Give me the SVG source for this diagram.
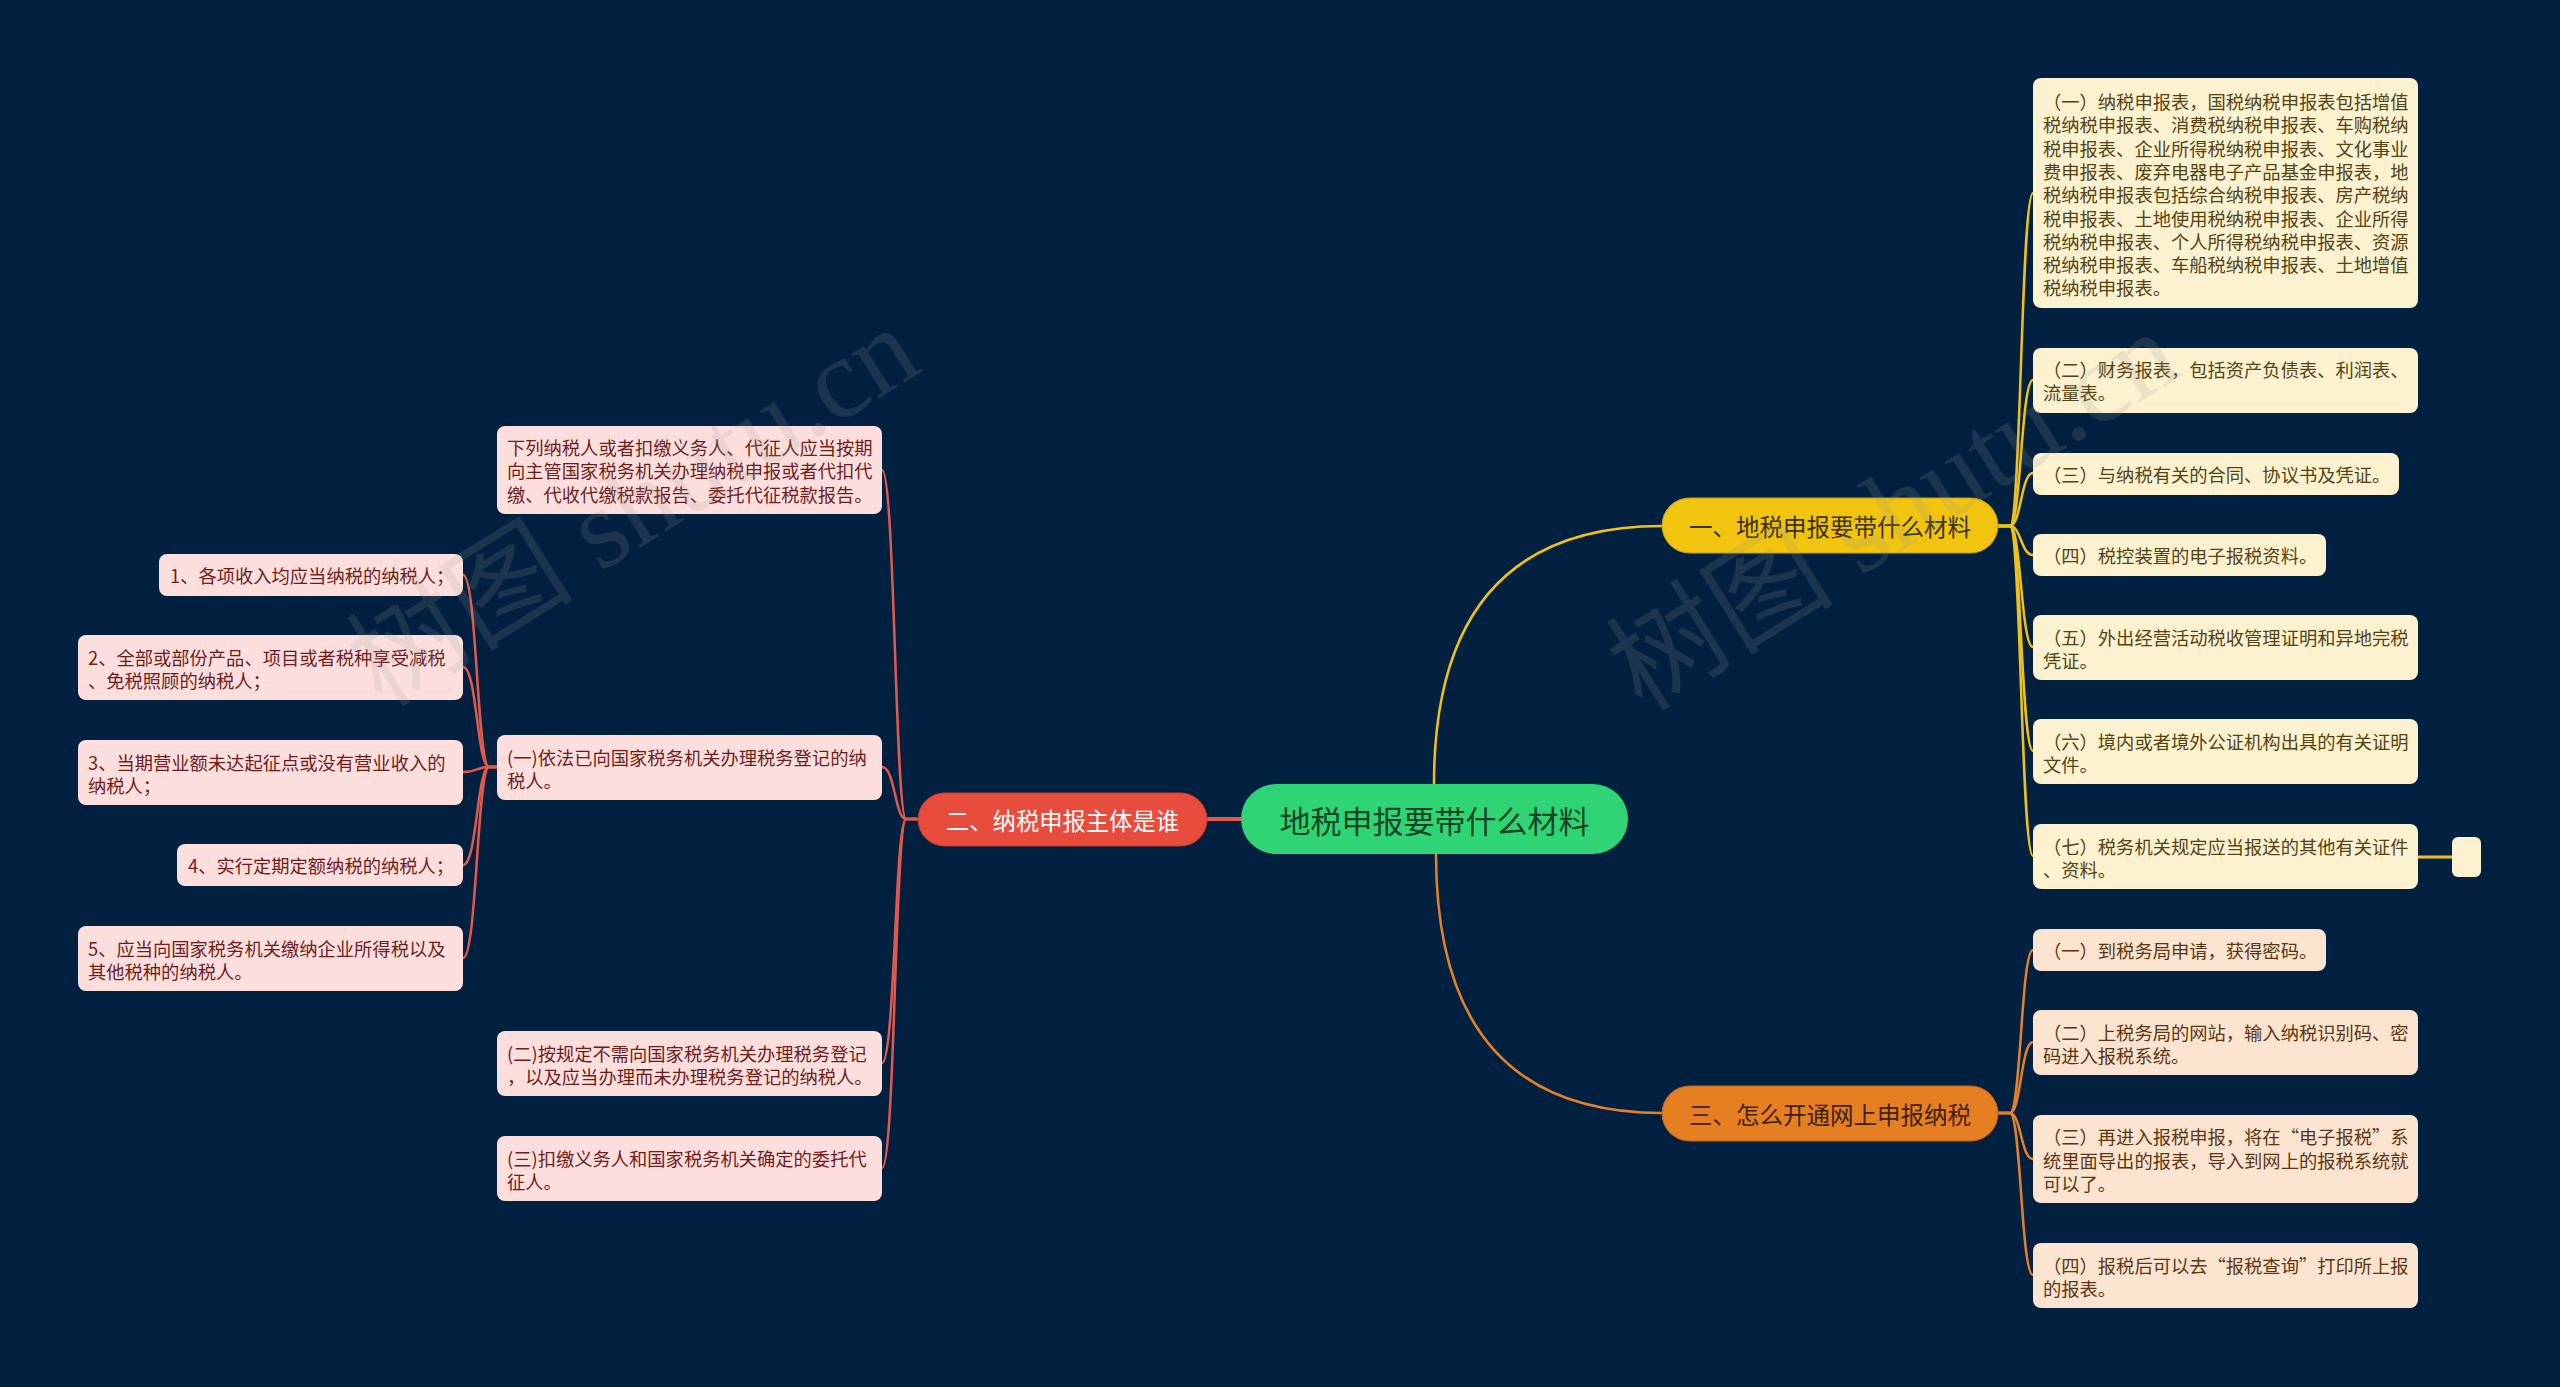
<svg xmlns="http://www.w3.org/2000/svg" width="2560" height="1387" viewBox="0 0 2560 1387">
<style>
text{font-family:"Noto Sans CJK SC","Noto Sans",sans-serif;dominant-baseline:central}
.t{font-size:18.3px}
.yb{fill:#fcf2d0}
.yt{fill:#544313}
.ob{fill:#fbe4cf}
.ot{fill:#5c3512}
.rb{fill:#fcdfdc}
.rt{fill:#6e1d1d}
.cy{fill:none;stroke:#efc21b;stroke-width:2.5}
.co{fill:none;stroke:#e4822a;stroke-width:2.5}
.cr{fill:none;stroke:#e25a4c;stroke-width:2.5}
.wm{font-family:"Liberation Serif","Noto Sans CJK SC",serif;font-size:114px;fill:#9a9a9a;opacity:0.17}
</style>
<rect width="2560" height="1387" fill="#022140"/>

<g id="connectors">
<path d="M1434 784 Q1434 526 1662 526" class="cy" stroke-width="3"/>
<path d="M1436 854 Q1436 1113 1662 1113" class="co" stroke-width="3"/>
<path d="M1241 819 L1207 819" class="cr" style="stroke-width:4"/>
<path d="M1998 526 H2010 C2021 526 2021 193 2033 193" class="cy"/>
<path d="M1998 526 H2010 C2021 526 2021 380 2033 380" class="cy"/>
<path d="M1998 526 H2010 C2021 526 2021 473 2033 473" class="cy"/>
<path d="M1998 526 H2010 C2021 526 2021 555 2033 555" class="cy"/>
<path d="M1998 526 H2010 C2021 526 2021 647 2033 647" class="cy"/>
<path d="M1998 526 H2010 C2021 526 2021 751 2033 751" class="cy"/>
<path d="M1998 526 H2010 C2021 526 2021 856 2033 856" class="cy"/>
<path d="M2418 857 H2452" class="cy" style="stroke-width:3"/>
<path d="M1998 1113 H2010 C2021 1113 2021 950 2033 950" class="co"/>
<path d="M1998 1113 H2010 C2021 1113 2021 1042 2033 1042" class="co"/>
<path d="M1998 1113 H2010 C2021 1113 2021 1159 2033 1159" class="co"/>
<path d="M1998 1113 H2010 C2021 1113 2021 1275 2033 1275" class="co"/>
<path d="M918 819 H906 C895 819 895 470 882 470" class="cr"/>
<path d="M918 819 H906 C895 819 895 767 882 767" class="cr"/>
<path d="M918 819 H906 C895 819 895 1063 882 1063" class="cr"/>
<path d="M918 819 H906 C895 819 895 1168 882 1168" class="cr"/>
<path d="M497 767 H489 C477 767 477 575 463 575" class="cr"/>
<path d="M497 767 H489 C477 767 477 667 463 667" class="cr"/>
<path d="M497 767 H489 C477 767 477 772 463 772" class="cr"/>
<path d="M497 767 H489 C477 767 477 865 463 865" class="cr"/>
<path d="M497 767 H489 C477 767 477 958 463 958" class="cr"/>
</g>

<g id="root">
<rect x="1241" y="784" width="387" height="70" rx="35" fill="#2fd474"/>
<text x="1434.5" y="819" font-size="31" text-anchor="middle" fill="#164526">地税申报要带什么材料</text>
</g>

<g id="b1">
<rect x="1662" y="498" width="336" height="55" rx="27.5" fill="#f1c40f" stroke="#c9a10a" stroke-width="1"/>
<text x="1830" y="526" font-size="23.5" text-anchor="middle" fill="#3b3000">一、地税申报要带什么材料</text>
</g>
<g id="b2">
<rect x="918" y="793" width="289" height="53" rx="26.5" fill="#e74c3c" stroke="#c23c2e" stroke-width="1"/>
<text x="1062.5" y="819.5" font-size="23.3" text-anchor="middle" fill="#ffffff">二、纳税申报主体是谁</text>
</g>
<g id="b3">
<rect x="1662" y="1086" width="336" height="55" rx="27.5" fill="#e67e22" stroke="#c0661a" stroke-width="1"/>
<text x="1830" y="1113.5" font-size="23.5" text-anchor="middle" fill="#3d2108">三、怎么开通网上申报纳税</text>
</g>

<g id="y1">
<rect x="2033" y="78" width="385" height="230" rx="8" class="yb"/>
<text class="t yt"><tspan x="2043" y="101">（一）纳税申报表，国税纳税申报表包括增值</tspan><tspan x="2043" y="124.3">税纳税申报表、消费税纳税申报表、车购税纳</tspan><tspan x="2043" y="147.6">税申报表、企业所得税纳税申报表、文化事业</tspan><tspan x="2043" y="170.9">费申报表、废弃电器电子产品基金申报表，地</tspan><tspan x="2043" y="194.2">税纳税申报表包括综合纳税申报表、房产税纳</tspan><tspan x="2043" y="217.5">税申报表、土地使用税纳税申报表、企业所得</tspan><tspan x="2043" y="240.8">税纳税申报表、个人所得税纳税申报表、资源</tspan><tspan x="2043" y="264.1">税纳税申报表、车船税纳税申报表、土地增值</tspan><tspan x="2043" y="287.4">税纳税申报表。</tspan></text>
</g>
<g id="y2">
<rect x="2033" y="348" width="385" height="65" rx="8" class="yb"/>
<text class="t yt"><tspan x="2043" y="369">（二）财务报表，包括资产负债表、利润表、</tspan><tspan x="2043" y="392.3">流量表。</tspan></text>
</g>
<g id="y3">
<rect x="2033" y="453" width="366" height="42" rx="8" class="yb"/>
<text class="t yt" x="2043" y="474">（三）与纳税有关的合同、协议书及凭证。</text>
</g>
<g id="y4">
<rect x="2033" y="534" width="293" height="42" rx="8" class="yb"/>
<text class="t yt" x="2043" y="555">（四）税控装置的电子报税资料。</text>
</g>
<g id="y5">
<rect x="2033" y="615" width="385" height="65" rx="8" class="yb"/>
<text class="t yt"><tspan x="2043" y="636.5">（五）外出经营活动税收管理证明和异地完税</tspan><tspan x="2043" y="659.8">凭证。</tspan></text>
</g>
<g id="y6">
<rect x="2033" y="719" width="385" height="65" rx="8" class="yb"/>
<text class="t yt"><tspan x="2043" y="740.5">（六）境内或者境外公证机构出具的有关证明</tspan><tspan x="2043" y="763.8">文件。</tspan></text>
</g>
<g id="y7">
<rect x="2033" y="824" width="385" height="65" rx="8" class="yb"/>
<text class="t yt"><tspan x="2043" y="845.5">（七）税务机关规定应当报送的其他有关证件</tspan><tspan x="2043" y="868.8">、资料。</tspan></text>
</g>
<g id="y7a">
<rect x="2452" y="837" width="29" height="40" rx="6" class="yb"/>
</g>

<g id="o1">
<rect x="2033" y="929" width="293" height="42" rx="8" class="ob"/>
<text class="t ot" x="2043" y="950">（一）到税务局申请，获得密码。</text>
</g>
<g id="o2">
<rect x="2033" y="1010" width="385" height="65" rx="8" class="ob"/>
<text class="t ot"><tspan x="2043" y="1031.5">（二）上税务局的网站，输入纳税识别码、密</tspan><tspan x="2043" y="1054.8">码进入报税系统。</tspan></text>
</g>
<g id="o3">
<rect x="2033" y="1115" width="385" height="88" rx="8" class="ob"/>
<text class="t ot"><tspan x="2043" y="1136.2">（三）再进入报税申报，将在“电子报税”系</tspan><tspan x="2043" y="1159.5">统里面导出的报表，导入到网上的报税系统就</tspan><tspan x="2043" y="1182.8">可以了。</tspan></text>
</g>
<g id="o4">
<rect x="2033" y="1243" width="385" height="65" rx="8" class="ob"/>
<text class="t ot"><tspan x="2043" y="1264.5">（四）报税后可以去“报税查询”打印所上报</tspan><tspan x="2043" y="1287.8">的报表。</tspan></text>
</g>

<g id="r1">
<rect x="497" y="426" width="385" height="88" rx="8" class="rb"/>
<text class="t rt"><tspan x="507" y="447">下列纳税人或者扣缴义务人、代征人应当按期</tspan><tspan x="507" y="470.3">向主管国家税务机关办理纳税申报或者代扣代</tspan><tspan x="507" y="493.6">缴、代收代缴税款报告、委托代征税款报告。</tspan></text>
</g>
<g id="r2">
<rect x="497" y="735" width="385" height="65" rx="8" class="rb"/>
<text class="t rt"><tspan x="507" y="756.5">(一)依法已向国家税务机关办理税务登记的纳</tspan><tspan x="507" y="779.8">税人。</tspan></text>
</g>
<g id="r3">
<rect x="497" y="1031" width="385" height="65" rx="8" class="rb"/>
<text class="t rt"><tspan x="507" y="1052.5">(二)按规定不需向国家税务机关办理税务登记</tspan><tspan x="507" y="1075.8">，以及应当办理而未办理税务登记的纳税人。</tspan></text>
</g>
<g id="r4">
<rect x="497" y="1136" width="385" height="65" rx="8" class="rb"/>
<text class="t rt"><tspan x="507" y="1157.5">(三)扣缴义务人和国家税务机关确定的委托代</tspan><tspan x="507" y="1180.8">征人。</tspan></text>
</g>

<g id="g1">
<rect x="159" y="554" width="304" height="42" rx="8" class="rb"/>
<text class="t rt" x="170" y="575">1、各项收入均应当纳税的纳税人；</text>
</g>
<g id="g2">
<rect x="78" y="635" width="385" height="65" rx="8" class="rb"/>
<text class="t rt"><tspan x="88" y="656.5">2、全部或部份产品、项目或者税种享受减税</tspan><tspan x="88" y="679.8">、免税照顾的纳税人；</tspan></text>
</g>
<g id="g3">
<rect x="78" y="740" width="385" height="65" rx="8" class="rb"/>
<text class="t rt"><tspan x="88" y="761.5">3、当期营业额未达起征点或没有营业收入的</tspan><tspan x="88" y="784.8">纳税人；</tspan></text>
</g>
<g id="g4">
<rect x="177" y="844" width="286" height="42" rx="8" class="rb"/>
<text class="t rt" x="188" y="865">4、实行定期定额纳税的纳税人；</text>
</g>
<g id="g5">
<rect x="78" y="926" width="385" height="65" rx="8" class="rb"/>
<text class="t rt"><tspan x="88" y="947.5">5、应当向国家税务机关缴纳企业所得税以及</tspan><tspan x="88" y="970.8">其他税种的纳税人。</tspan></text>
</g>

<g id="watermarks">
<text class="wm" transform="translate(362 676) rotate(-32)">树图 shutu.cn</text>
<text class="wm" transform="translate(1622 680) rotate(-32)">树图 shutu.cn</text>
</g>
</svg>
